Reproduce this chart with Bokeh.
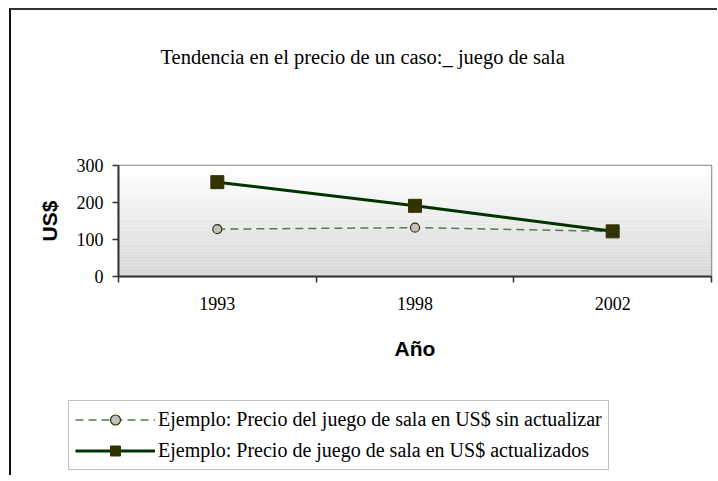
from bokeh.plotting import figure
from bokeh.models import Range1d, FixedTicker, Legend, LegendItem, BoxAnnotation, Title
from bokeh.layouts import column
from bokeh.embed import file_html
from bokeh.resources import INLINE

# ---- data ----
years = ["1993", "1998", "2002"]
precio_sin_actualizar = [128, 132, 122]
precio_actualizado = [255, 191, 122]
y_ticks = [0, 100, 200, 300]
title_text = "Tendencia en el precio de un caso:_ juego de sala"
x_label = "Año"
y_label = "US$"
serie_1 = "Ejemplo: Precio del juego de sala en US$ sin actualizar"
serie_2 = "Ejemplo: Precio de juego de sala en US$ actualizados"

x = [i + 0.5 for i in range(len(years))]
SERIF = "Liberation Serif"
SANS = "Liberation Sans"

W = 706
p = figure(width=W, height=375, output_backend="svg", toolbar_location=None,
           x_range=Range1d(0, len(years)), y_range=Range1d(y_ticks[0], y_ticks[-1]),
           min_border_left=107, min_border_right=6, min_border_top=155, min_border_bottom=109,
           background_fill_color="white", border_fill_color="white")

# spacer title (closest to the frame) then the real title further out
p.title.visible = False
p.add_layout(Title(text=" ", text_font_size="10px", standoff=80), "above")
p.add_layout(Title(text=title_text, text_font=SERIF, text_font_size="20.5px",
                   text_font_style="normal", text_color="black", align="left",
                   offset=42, standoff=10), "above")

p.xgrid.visible = False
p.ygrid.visible = False
p.outline_line_color = "#808080"
p.outline_line_width = 1.5

# gradient background of plot area (decoration)
n = 40
lo, hi = y_ticks[0], y_ticks[-1]
for i in range(n):
    t = i / (n - 1)
    g = int(round(0xd7 + (0xff - 0xd7) * t))
    col = "#%02x%02x%02x" % (g, g, g)
    p.add_layout(BoxAnnotation(bottom=lo + (hi - lo) * i / n, top=lo + (hi - lo) * (i + 1) / n,
                               fill_color=col, fill_alpha=1.0, line_color=None, level="underlay"))

# axes
p.yaxis.ticker = FixedTicker(ticks=y_ticks, minor_ticks=[])
p.yaxis.axis_line_color = "#333333"
p.yaxis.axis_line_width = 2
p.yaxis.major_tick_in = 0
p.yaxis.major_tick_out = 6
p.yaxis.major_tick_line_color = "#333333"
p.yaxis.major_tick_line_width = 1.5
p.yaxis.minor_tick_line_color = None
p.yaxis.major_label_text_font = SERIF
p.yaxis.major_label_text_font_size = "18px"
p.yaxis.major_label_text_color = "black"
p.yaxis.major_label_standoff = 9
p.yaxis.axis_label = y_label
p.yaxis.axis_label_text_font = SANS
p.yaxis.axis_label_text_font_style = "bold"
p.yaxis.axis_label_text_font_size = "21px"
p.yaxis.axis_label_text_color = "black"
p.yaxis.axis_label_standoff = 13

p.xaxis.ticker = FixedTicker(ticks=x, minor_ticks=list(range(len(years) + 1)))
p.xaxis.major_label_overrides = {xi: yr for xi, yr in zip(x, years)}
p.xaxis.axis_line_color = "#333333"
p.xaxis.axis_line_width = 2
p.xaxis.major_tick_line_color = None
p.xaxis.major_tick_in = 0
p.xaxis.major_tick_out = 6
p.xaxis.minor_tick_in = 0
p.xaxis.minor_tick_out = 6
p.xaxis.minor_tick_line_color = "#333333"
p.xaxis.minor_tick_line_width = 1.5
p.xaxis.major_label_text_font = SERIF
p.xaxis.major_label_text_font_size = "18px"
p.xaxis.major_label_text_color = "black"
p.xaxis.major_label_standoff = 14
p.xaxis.axis_label = x_label
p.xaxis.axis_label_text_font = SANS
p.xaxis.axis_label_text_font_style = "bold"
p.xaxis.axis_label_text_font_size = "21px"
p.xaxis.axis_label_text_color = "black"
p.xaxis.axis_label_standoff = 24

# series
line1_style = dict(line_color="#567856", line_width=1.5, line_dash="8 5")
mark1_style = dict(marker="circle", size=9, fill_color="#c0c0c0", line_color="#333300", line_width=1.2)
line2_style = dict(line_color="#003300", line_width=3)
mark2_style = dict(marker="square", size=13, fill_color="#333300", line_color="#333300")

p.line(x, precio_sin_actualizar, **line1_style)
p.scatter(x, precio_sin_actualizar, **mark1_style)
p.line(x, precio_actualizado, **line2_style)
p.scatter(x, precio_actualizado, **mark2_style)

# legend panel (separate canvas below the chart, so it is not clipped).
# Its ranges keep the series themselves out of view: only the legend shows.
q = figure(width=W, height=90, output_backend="svg", toolbar_location=None,
           x_axis_type=None, y_axis_type=None, min_border=0,
           x_range=Range1d(0, 1), y_range=Range1d(0, 1),
           background_fill_color="white", border_fill_color="white")
if "frame_align" in q.properties():
    q.frame_align = False
q.outline_line_color = None
q.xgrid.visible = False
q.ygrid.visible = False
g1 = q.line(x, precio_sin_actualizar, **line1_style)
g1m = q.scatter(x, precio_sin_actualizar, **mark1_style)
g2 = q.line(x, precio_actualizado, **line2_style)
g2m = q.scatter(x, precio_actualizado, **mark2_style)

legend = Legend(items=[LegendItem(label=serie_1, renderers=[g1, g1m]),
                       LegendItem(label=serie_2, renderers=[g2, g2m])],
                location=(57, 5), orientation="vertical",
                border_line_color="#808080", border_line_width=1.5,
                background_fill_color="white", background_fill_alpha=1.0,
                padding=6, spacing=6, margin=0,
                glyph_width=80, glyph_height=25, label_height=25, label_standoff=3,
                label_text_font=SERIF, label_text_font_size="20px", label_text_color="black")
q.add_layout(legend, "center")

layout = column(p, q, spacing=0,
                styles={"border-top": "2px solid #333333", "border-left": "2px solid #111111",
                        "margin-top": "8px", "margin-left": "9px"})

open("out.html", "w").write(file_html(layout, INLINE))
